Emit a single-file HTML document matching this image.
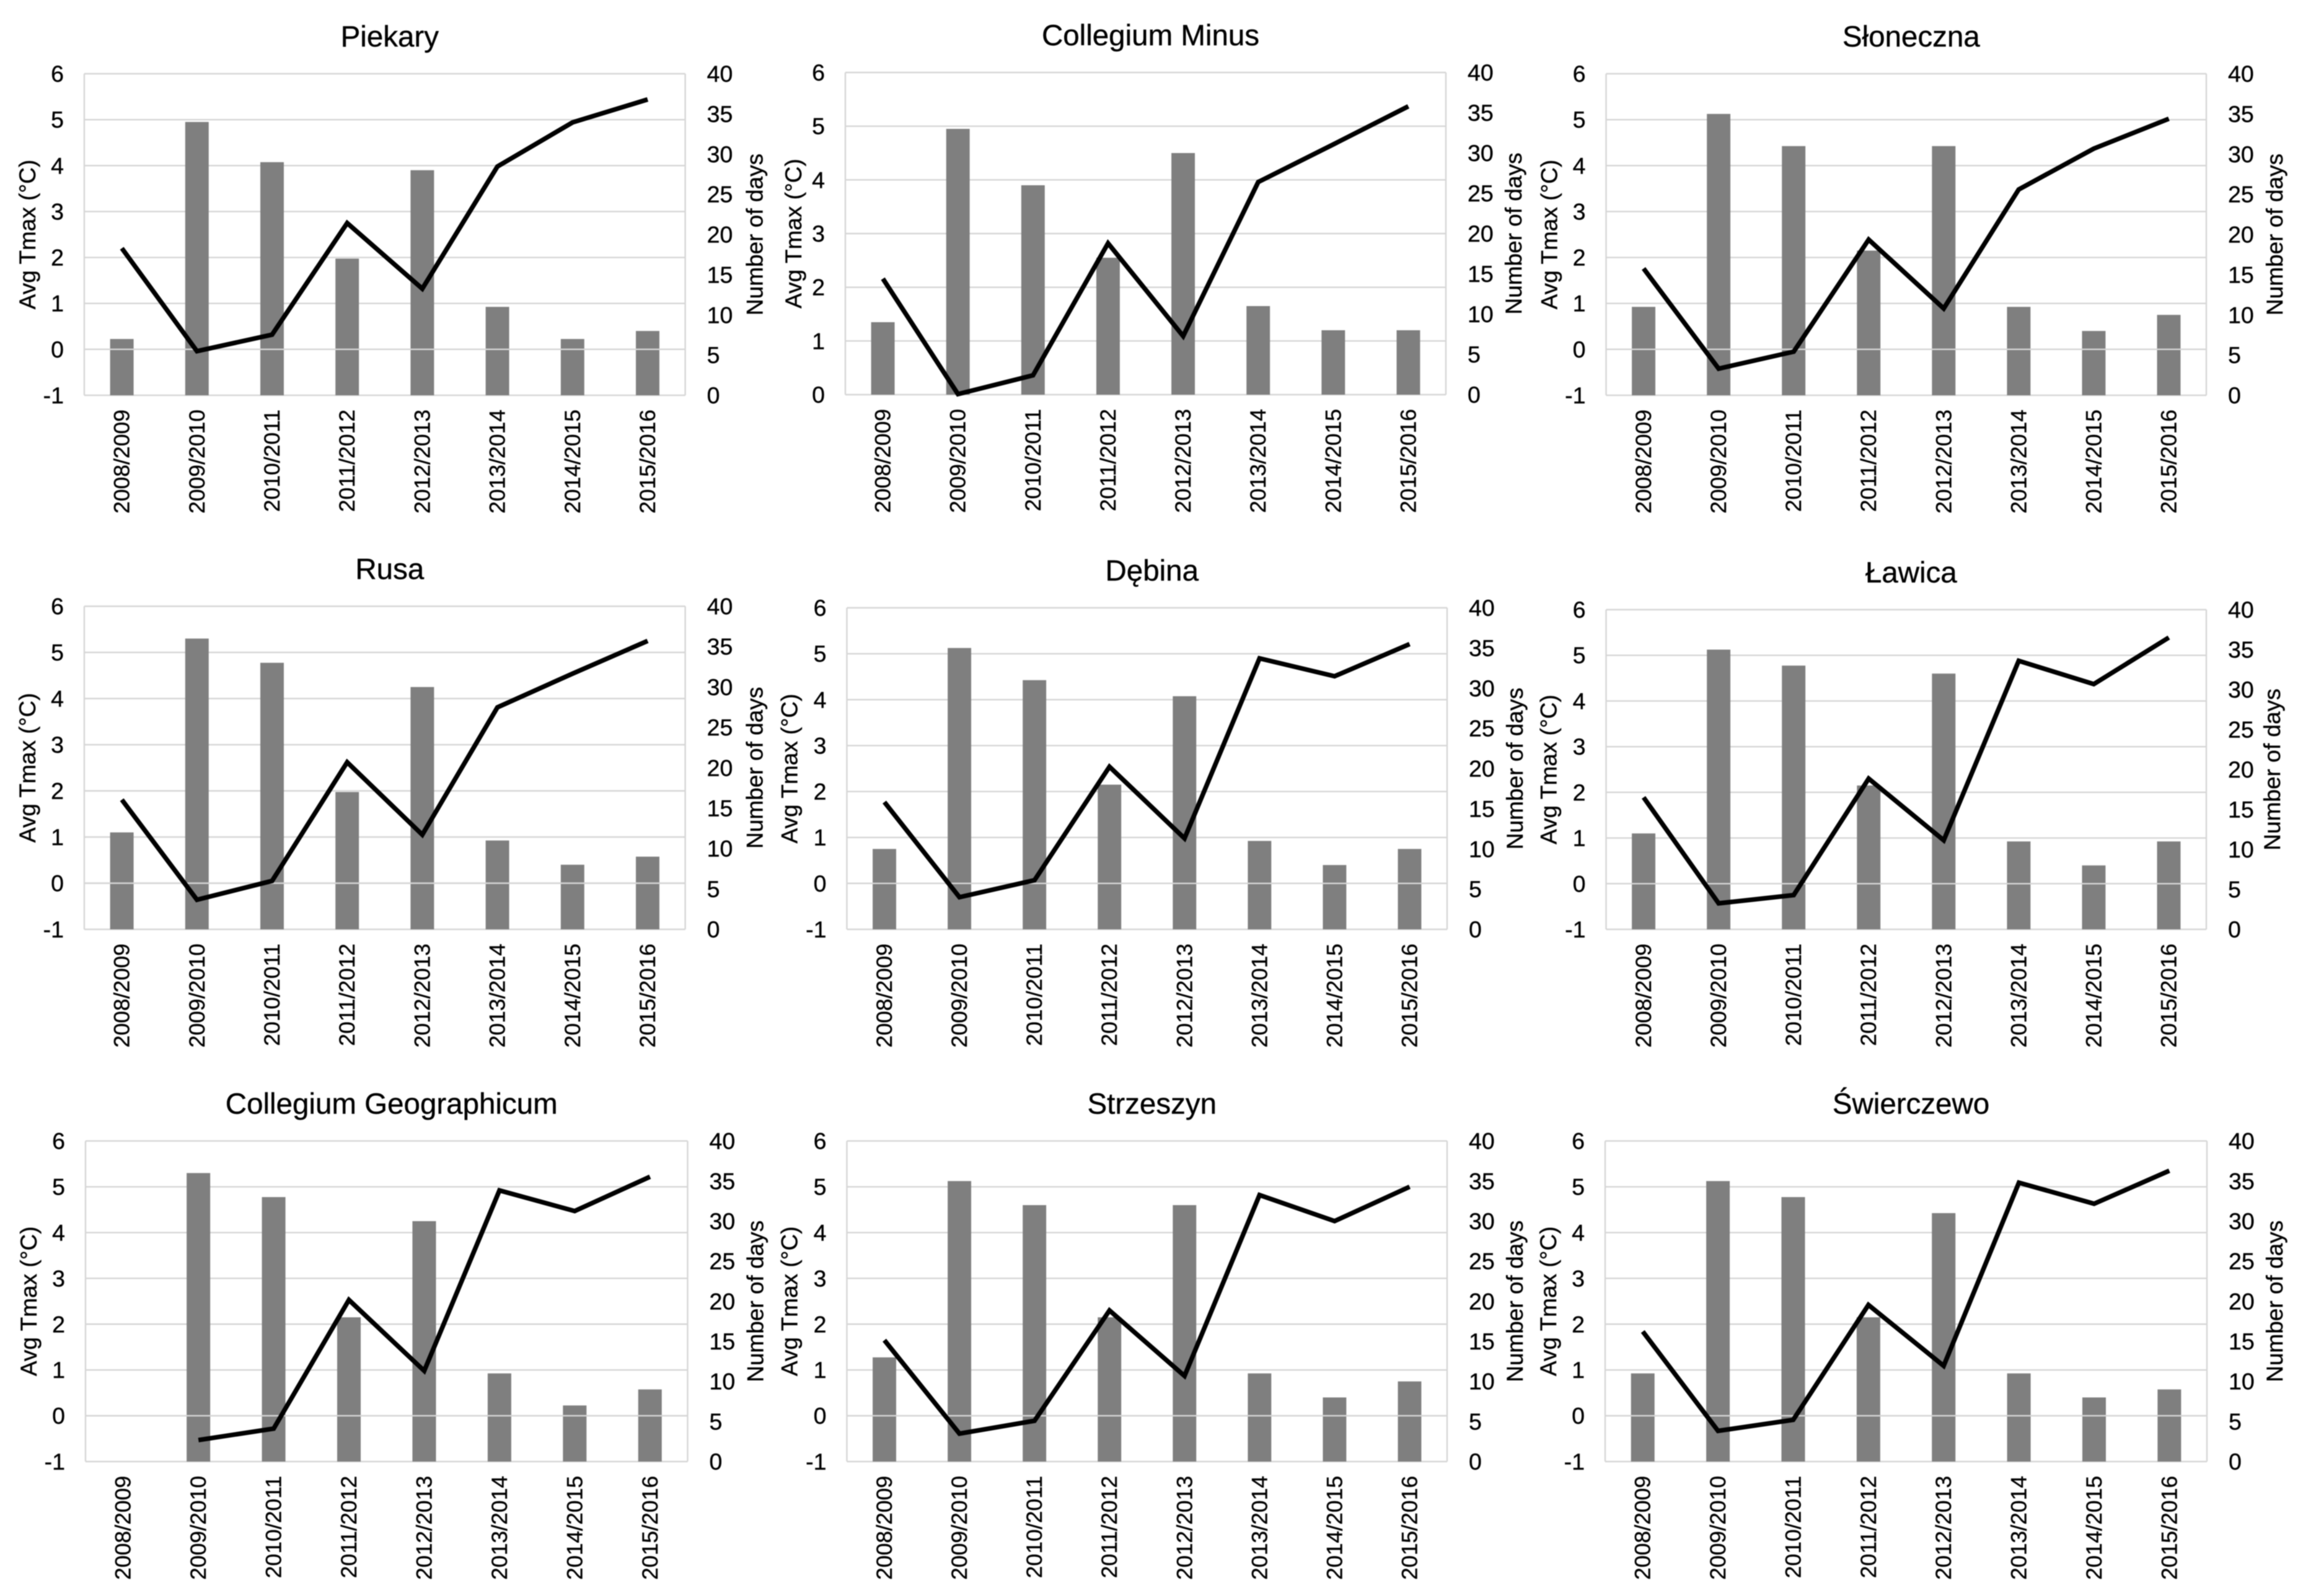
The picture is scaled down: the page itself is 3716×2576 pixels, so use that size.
<!DOCTYPE html>
<html lang="en">
<head>
<meta charset="utf-8">
<title>Avg Tmax and number of days by station</title>
<style>
  html, body { margin: 0; padding: 0; background: #fff; }
  svg { display: block; filter: blur(0.7px); }
  text { font-family: "Liberation Sans", Arial, sans-serif; fill: #000; stroke: #000; stroke-width: 0.4px; }
</style>
</head>
<body>
<svg id="figure" xmlns="http://www.w3.org/2000/svg" width="3716" height="2576" viewBox="0 0 3716 2576"></svg>
<script>
const categories = ['2008/2009','2009/2010','2010/2011','2011/2012','2012/2013','2013/2014','2014/2015','2015/2016'];
const rightTicks = [0,5,10,15,20,25,30,35,40];
const leftTicksFull = [-1,0,1,2,3,4,5,6];
const leftTicksFromZero = [0,1,2,3,4,5,6];

const piekaryDays = [7,34,29,17,28,11,7,8];
const piekaryTmax = [2.20,-0.04,0.32,2.75,1.32,3.98,4.94,5.44];
const collegiumMinusDays = [9,33,26,17,30,11,8,8];
const collegiumMinusTmax = [2.16,0.01,0.36,2.82,1.09,3.96,4.66,5.37];
const slonecznaDays = [11,35,31,18,31,11,8,10];
const slonecznaTmax = [1.76,-0.42,-0.05,2.39,0.89,3.48,4.37,5.02];
const rusaDays = [12,36,33,17,30,11,8,9];
const rusaTmax = [1.81,-0.36,0.05,2.62,1.05,3.81,4.54,5.25];
const debinaDays = [10,35,31,18,29,11,8,10];
const debinaTmax = [1.77,-0.30,0.07,2.54,0.98,4.90,4.51,5.21];
const lawicaDays = [12,35,33,18,32,11,8,11];
const lawicaTmax = [1.89,-0.43,-0.25,2.30,0.95,4.88,4.37,5.39];
const geographicumDays = [null,36,33,18,30,11,7,9];
const geographicumTmax = [null,-0.53,-0.28,2.53,0.98,4.92,4.47,5.22];
const strzeszynDays = [13,35,32,18,32,11,8,10];
const strzeszynTmax = [1.65,-0.39,-0.11,2.30,0.87,4.82,4.25,5.00];
const swierczewoDays = [11,35,33,18,31,11,8,9];
const swierczewoTmax = [1.84,-0.33,-0.09,2.42,1.09,5.09,4.63,5.35];

const panels = [
  { title: 'Piekary', slug: 'piekary', days: piekaryDays, tmax: piekaryTmax, leftTicks: leftTicksFull, box: { l: 136, r: 1105.6, t: 119, b: 638, lt: 79, rt: 125 } },
  { title: 'Collegium Minus', slug: 'collegium-minus', days: collegiumMinusDays, tmax: collegiumMinusTmax, leftTicks: leftTicksFromZero, box: { l: 1364, r: 2333, t: 117, b: 637, lt: 71, rt: 122 } },
  { title: 'Słoneczna', slug: 'sloneczna', days: slonecznaDays, tmax: slonecznaTmax, leftTicks: leftTicksFull, box: { l: 2591.5, r: 3560, t: 119, b: 638, lt: 79, rt: 123 } },
  { title: 'Rusa', slug: 'rusa', days: rusaDays, tmax: rusaTmax, leftTicks: leftTicksFull, box: { l: 136, r: 1105.6, t: 978.5, b: 1500, lt: 79, rt: 125 } },
  { title: 'Dębina', slug: 'debina', days: debinaDays, tmax: debinaTmax, leftTicks: leftTicksFull, box: { l: 1366.5, r: 2335, t: 981, b: 1500, lt: 80, rt: 122 } },
  { title: 'Ławica', slug: 'lawica', days: lawicaDays, tmax: lawicaTmax, leftTicks: leftTicksFull, box: { l: 2591.5, r: 3560, t: 984, b: 1500, lt: 80, rt: 119 } },
  { title: 'Collegium Geographicum', slug: 'collegium-geographicum', days: geographicumDays, tmax: geographicumTmax, leftTicks: leftTicksFull, box: { l: 138, r: 1109.5, t: 1841.6, b: 2359, lt: 79, rt: 122 } },
  { title: 'Strzeszyn', slug: 'strzeszyn', days: strzeszynDays, tmax: strzeszynTmax, leftTicks: leftTicksFull, box: { l: 1366.5, r: 2335, t: 1841.6, b: 2359, lt: 80, rt: 122 } },
  { title: 'Świerczewo', slug: 'swierczewo', days: swierczewoDays, tmax: swierczewoTmax, leftTicks: leftTicksFull, box: { l: 2590, r: 3561, t: 1841.6, b: 2359, lt: 79, rt: 122 } }
];

const SVG_NS = 'http://www.w3.org/2000/svg';
const figure = document.getElementById('figure');
const GRID_COLOR = '#d6d6d6';
const BAR_COLOR = '#7f7f7f';

function make(tag, parent, attrs) {
  const el = document.createElementNS(SVG_NS, tag);
  for (const key in attrs) el.setAttribute(key, attrs[key]);
  parent.appendChild(el);
  return el;
}

function bandCenter(box, i) {
  return box.l + (box.r - box.l) * (i + 0.5) / categories.length;
}
function bandWidth(box) {
  return (box.r - box.l) / categories.length;
}
function yTmax(box, ticks, v) {
  const min = ticks[0];
  const max = ticks[ticks.length - 1];
  return box.b - (v - min) / (max - min) * (box.b - box.t);
}
function yDays(box, v) {
  const max = rightTicks[rightTicks.length - 1];
  return box.b - v / max * (box.b - box.t);
}

function drawPanel(p) {
  const box = p.box;
  const g = make('g', figure, {});
  
  

  const title = make('text', g, { x: (box.l + box.r) / 2 + 8, y: box.t - 44, 'font-size': 47.5, 'text-anchor': 'middle' });
  title.textContent = p.title;
  
  

  // gridlines behind the bars
  p.leftTicks.forEach(function (tick) {
    const y = yTmax(box, p.leftTicks, tick);
    const grid = make('line', g, { x1: box.l, x2: box.r, y1: y, y2: y, stroke: GRID_COLOR, 'stroke-width': 2.4 });
    
    

    const label = make('text', g, { x: box.l - 33, y: y + 13, 'font-size': 37.5, 'text-anchor': 'end' });
    label.textContent = String(tick);
    
    
  });

  const leftEdge = make('line', g, { x1: box.l, x2: box.l, y1: box.t, y2: box.b, stroke: GRID_COLOR, 'stroke-width': 2.4 });
  
  

  const rightEdge = make('line', g, { x1: box.r, x2: box.r, y1: box.t, y2: box.b, stroke: GRID_COLOR, 'stroke-width': 2.4 });
  
  

  rightTicks.forEach(function (tick) {
    const label = make('text', g, { x: box.r + 35, y: yDays(box, tick) + 13, 'font-size': 37.5 });
    label.textContent = String(tick);
    
    
  });

  const barW = bandWidth(box) * 0.313;
  p.days.forEach(function (v, i) {
    if (v === null) return;
    const top = yDays(box, v);
    const bar = make('rect', g, { x: bandCenter(box, i) - barW / 2, y: top, width: barW, height: box.b - top, fill: BAR_COLOR });
    
    
  });

  // the zero line crosses in front of the bars
  if (p.leftTicks[0] < 0) {
    const y0 = yTmax(box, p.leftTicks, 0);
    const zero = make('line', g, { x1: box.l, x2: box.r, y1: y0, y2: y0, stroke: GRID_COLOR, 'stroke-width': 2.4 });
    
    
  }

  let points = '';
  p.tmax.forEach(function (v, i) {
    if (v === null) return;
    points += bandCenter(box, i).toFixed(1) + ',' + yTmax(box, p.leftTicks, v).toFixed(1) + ' ';
  });
  const line = make('polyline', g, { points: points.trim(), fill: 'none', stroke: '#000', 'stroke-width': 7.5, 'stroke-linejoin': 'miter' });
  
  

  categories.forEach(function (cat, i) {
    const cx = bandCenter(box, i) + 12;
    const cy = box.b + 23;
    const label = make('text', g, { x: cx, y: cy, 'font-size': 35.5, 'text-anchor': 'end', transform: 'rotate(-90 ' + cx + ' ' + cy + ')' });
    label.textContent = cat;
    
    
  });

  const midY = (box.t + box.b) / 2;
  const leftTitleX = box.l - box.lt;
  const leftTitle = make('text', g, { x: leftTitleX, y: midY, 'font-size': 37, 'text-anchor': 'middle', transform: 'rotate(-90 ' + leftTitleX + ' ' + midY + ')' });
  leftTitle.textContent = 'Avg Tmax (°C)';
  
  

  const rightTitleX = box.r + box.rt;
  const rightTitle = make('text', g, { x: rightTitleX, y: midY, 'font-size': 37, 'text-anchor': 'middle', transform: 'rotate(-90 ' + rightTitleX + ' ' + midY + ')' });
  rightTitle.textContent = 'Number of days';
  
  
}

panels.forEach(drawPanel);
</script>
</body>
</html>
